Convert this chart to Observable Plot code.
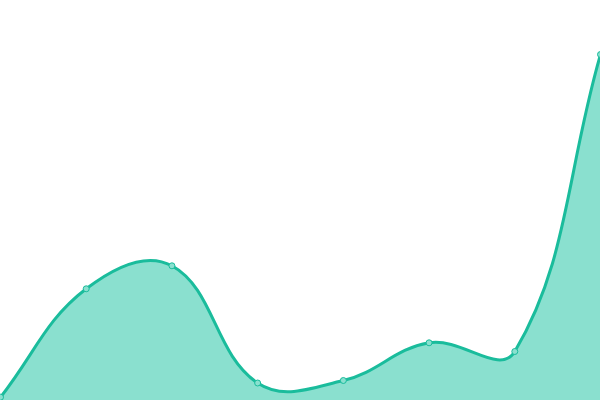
<!DOCTYPE html>
<html><head><meta charset="utf-8">
<script src="https://cdn.jsdelivr.net/npm/d3@7"></script>
<script src="https://cdn.jsdelivr.net/npm/@observablehq/plot@0.6"></script>
<style>html,body{margin:0;padding:0;background:#fff;overflow:hidden}</style>
</head><body><div id="chart"></div>
<script>
const indices = [0, 1, 2, 3, 4, 5, 6, 7];
const values = [3.3, 111.7, 134.7, 17.5, 20, 57.7, 49, 346];
const data = indices.map((i, k) => ({x: i, y: values[k]}));

// Tension-based spline (0.4), control points weighted by neighbour distances
function TensionSpline(context) { this._context = context; }
TensionSpline.prototype = {
  areaStart() { this._line = 0; },
  areaEnd() { this._line = NaN; },
  lineStart() { this._pts = []; },
  point(x, y) { this._pts.push([+x, +y]); },
  lineEnd() {
    const p = this._pts, n = p.length, c = this._context, t = 0.4;
    if (n) {
      if (this._line) c.lineTo(p[0][0], p[0][1]); else c.moveTo(p[0][0], p[0][1]);
      const cpPrev = [], cpNext = [];
      for (let i = 0; i < n; i++) {
        const prev = p[Math.max(0, i - 1)], cur = p[i], next = p[Math.min(n - 1, i + 1)];
        const d01 = Math.hypot(cur[0] - prev[0], cur[1] - prev[1]);
        const d12 = Math.hypot(next[0] - cur[0], next[1] - cur[1]);
        let s01 = d01 / (d01 + d12), s12 = d12 / (d01 + d12);
        if (!isFinite(s01)) s01 = 0;
        if (!isFinite(s12)) s12 = 0;
        const fa = t * s01, fb = t * s12;
        cpPrev.push([cur[0] - fa * (next[0] - prev[0]), cur[1] - fa * (next[1] - prev[1])]);
        cpNext.push([cur[0] + fb * (next[0] - prev[0]), cur[1] + fb * (next[1] - prev[1])]);
      }
      for (let i = 0; i < n - 1; i++) {
        c.bezierCurveTo(cpNext[i][0], cpNext[i][1], cpPrev[i + 1][0], cpPrev[i + 1][1], p[i + 1][0], p[i + 1][1]);
      }
    }
    if (this._line || (this._line !== 0 && n === 1)) c.closePath();
    this._line = 1 - this._line;
  }
};
const curveTension = (context) => new TensionSpline(context);

const chart = Plot.plot({
  width: 600, height: 400,
  margin: 0,
  x: {domain: [0, 7], axis: null},
  y: {domain: [0, 400], axis: null},
  marks: [
    Plot.areaY(data, {x: "x", y: "y", curve: curveTension, fill: "#8ae0cf"}),
    Plot.lineY(data, {x: "x", y: "y", curve: curveTension, stroke: "#1abc9c", strokeWidth: 3}),
    Plot.dot(data, {x: "x", y: "y", r: 3, fill: "#8ae0cf", stroke: "#1abc9c", strokeWidth: 1})
  ]
});
document.getElementById("chart").appendChild(chart);
</script></body></html>
